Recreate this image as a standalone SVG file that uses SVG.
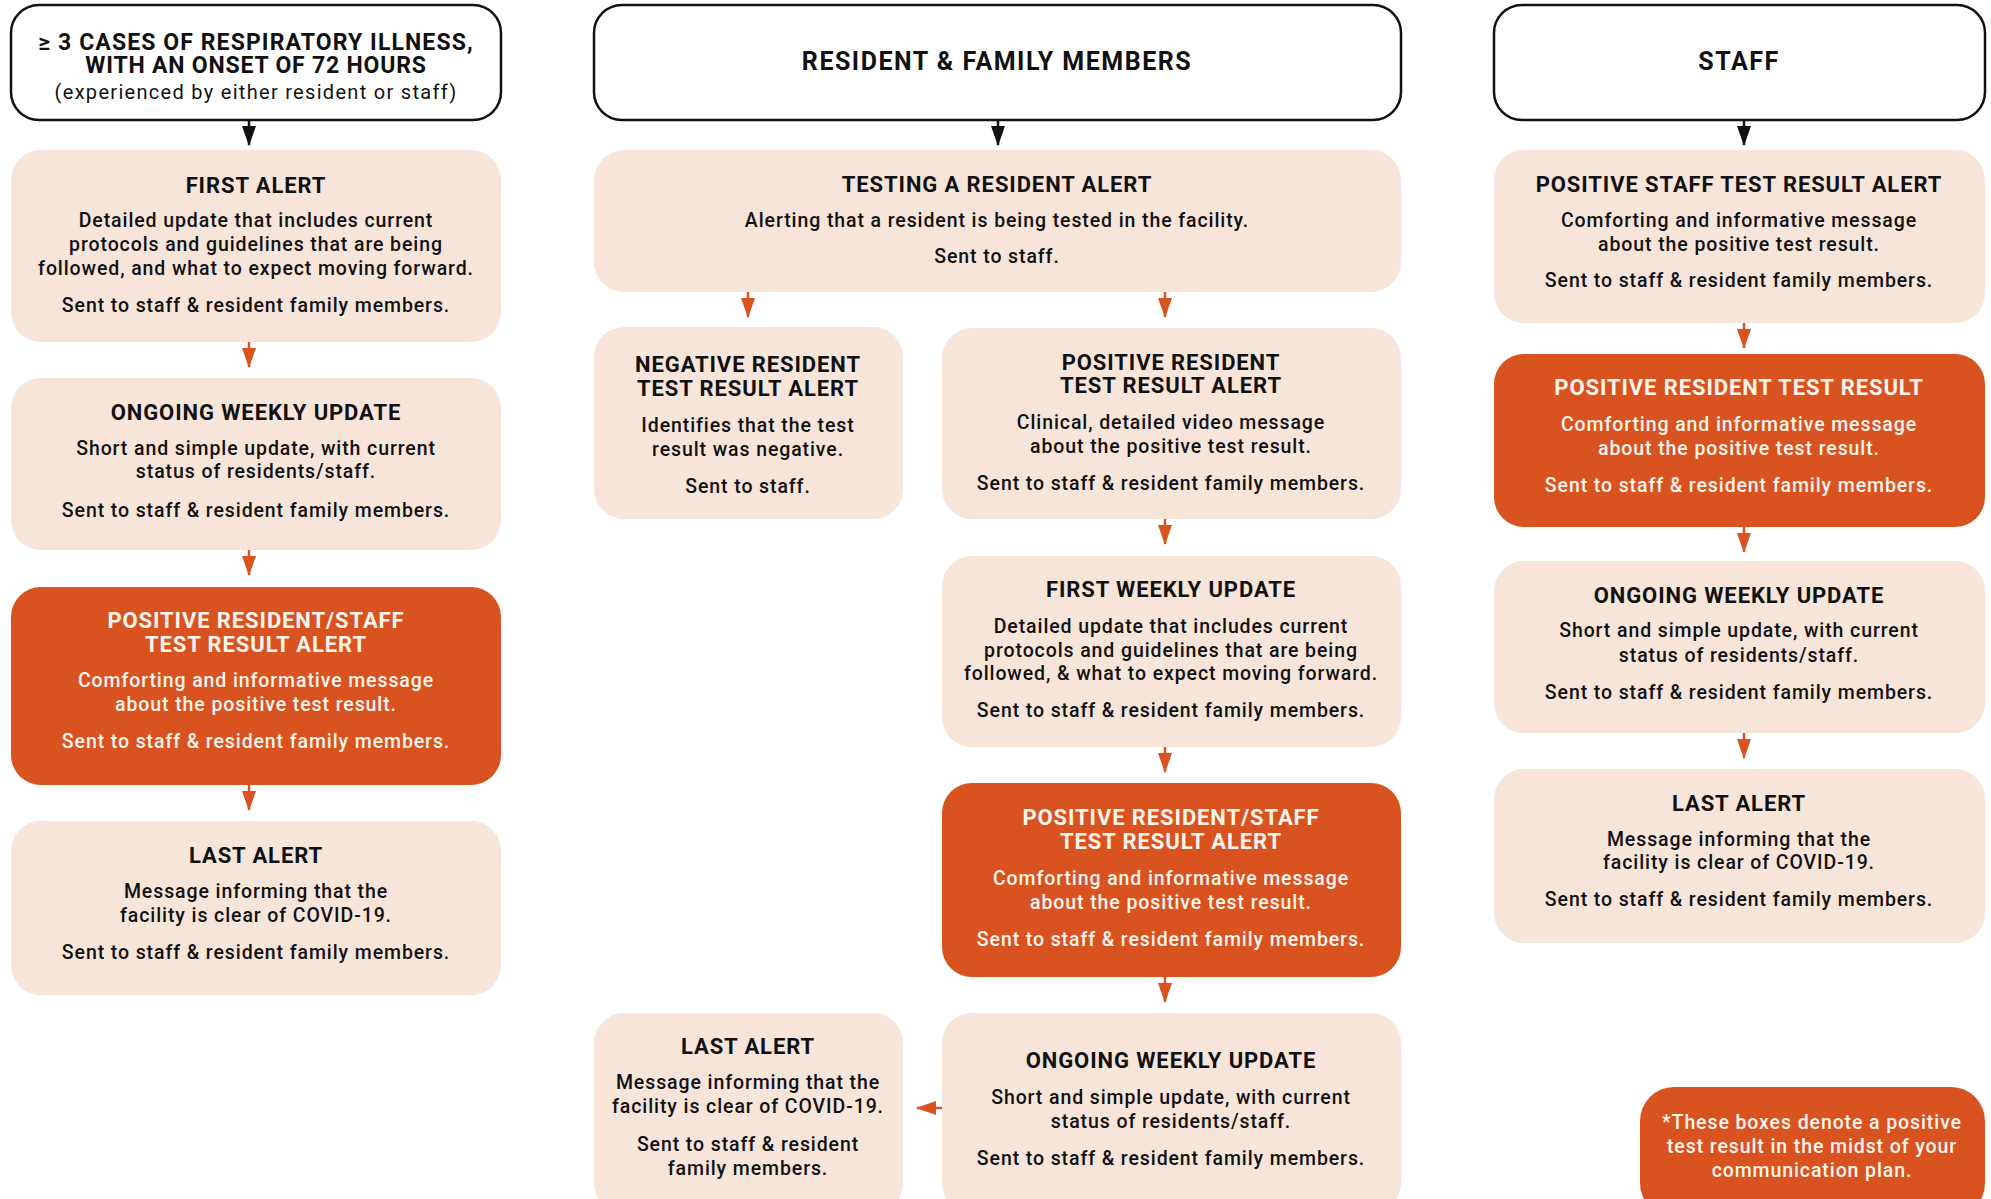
<svg xmlns="http://www.w3.org/2000/svg" width="1991" height="1199" viewBox="0 0 1991 1199">
<style>
.hd{fill:#fff;stroke:#111;stroke-width:2.5}
.pk{fill:#F8E5DA}
.or{fill:#D8531F}
text{font-family:Roboto,"Liberation Sans",sans-serif;text-anchor:middle;fill:#111}
.t{font-size:22px;font-weight:700;letter-spacing:0.9px}
.h{font-size:25px;font-weight:700;letter-spacing:1.5px}
.h2{font-size:23px;font-weight:700;letter-spacing:0.8px}
.s{font-size:20px;font-weight:400;letter-spacing:1.3px}
.b{font-size:19.5px;font-weight:500;letter-spacing:0.9px}
.w{fill:#FFF5EE}
.ao{stroke:#D8531F;stroke-width:2.5;fill:none}
.ak{stroke:#111;stroke-width:2.5;fill:none}
</style>
<defs>
<marker id="mo" viewBox="0 0 20 14" refX="19" refY="7" markerWidth="20" markerHeight="14" markerUnits="userSpaceOnUse" orient="auto"><path d="M0,0 L20,7 L0,14 Z" fill="#D8531F"/></marker>
<marker id="mk" viewBox="0 0 20 14" refX="19" refY="7" markerWidth="20" markerHeight="14" markerUnits="userSpaceOnUse" orient="auto"><path d="M0,0 L20,7 L0,14 Z" fill="#111"/></marker>
</defs>

<g id="connectors">
<line class="ak" x1="249" y1="120" x2="249" y2="145" marker-end="url(#mk)"/>
<line class="ao" x1="249" y1="342" x2="249" y2="367" marker-end="url(#mo)"/>
<line class="ao" x1="249" y1="550" x2="249" y2="575" marker-end="url(#mo)"/>
<line class="ao" x1="249" y1="785" x2="249" y2="810" marker-end="url(#mo)"/>
<line class="ak" x1="998" y1="120" x2="998" y2="145" marker-end="url(#mk)"/>
<line class="ao" x1="748" y1="292" x2="748" y2="317" marker-end="url(#mo)"/>
<line class="ao" x1="1165" y1="292" x2="1165" y2="317" marker-end="url(#mo)"/>
<line class="ao" x1="1165" y1="519" x2="1165" y2="544" marker-end="url(#mo)"/>
<line class="ao" x1="1165" y1="747" x2="1165" y2="772" marker-end="url(#mo)"/>
<line class="ao" x1="1165" y1="977" x2="1165" y2="1002" marker-end="url(#mo)"/>
<line class="ao" x1="942" y1="1108" x2="917" y2="1108" marker-end="url(#mo)"/>
<line class="ak" x1="1744" y1="120" x2="1744" y2="145" marker-end="url(#mk)"/>
<line class="ao" x1="1744" y1="323" x2="1744" y2="348" marker-end="url(#mo)"/>
<line class="ao" x1="1744" y1="527" x2="1744" y2="552" marker-end="url(#mo)"/>
<line class="ao" x1="1744" y1="733" x2="1744" y2="758" marker-end="url(#mo)"/>
</g>

<g id="hdr-cases">
<rect class="hd" x="11" y="5" width="490" height="115" rx="28"/>
<text class="h2" x="256" y="50" style="letter-spacing:1.1px">≥ 3 CASES OF RESPIRATORY ILLNESS,</text>
<text class="h2" x="256" y="73">WITH AN ONSET OF 72 HOURS</text>
<text class="s" x="256" y="99">(experienced by either resident or staff)</text>
</g>
<g id="c1-first-alert">
<rect class="pk" x="11" y="150" width="490" height="192" rx="30"/>
<text class="t" x="256" y="193">FIRST ALERT</text>
<text class="b" x="256" y="227">Detailed update that includes current</text>
<text class="b" x="256" y="251">protocols and guidelines that are being</text>
<text class="b" x="256" y="275">followed, and what to expect moving forward.</text>
<text class="b" x="256" y="312">Sent to staff &amp; resident family members.</text>
</g>
<g id="c1-ongoing">
<rect class="pk" x="11" y="378" width="490" height="172" rx="30"/>
<text class="t" x="256" y="420">ONGOING WEEKLY UPDATE</text>
<text class="b" x="256" y="455">Short and simple update, with current</text>
<text class="b" x="256" y="478">status of residents/staff.</text>
<text class="b" x="256" y="517">Sent to staff &amp; resident family members.</text>
</g>
<g id="c1-positive">
<rect class="or" x="11" y="587" width="490" height="198" rx="30"/>
<text class="t w" x="256" y="628">POSITIVE RESIDENT/STAFF</text>
<text class="t w" x="256" y="652">TEST RESULT ALERT</text>
<text class="b w" x="256" y="687">Comforting and informative message</text>
<text class="b w" x="256" y="711">about the positive test result.</text>
<text class="b w" x="256" y="748">Sent to staff &amp; resident family members.</text>
</g>
<g id="c1-last">
<rect class="pk" x="11" y="821" width="490" height="174" rx="30"/>
<text class="t" x="256" y="863">LAST ALERT</text>
<text class="b" x="256" y="898">Message informing that the</text>
<text class="b" x="256" y="922">facility is clear of COVID-19.</text>
<text class="b" x="256" y="959">Sent to staff &amp; resident family members.</text>
</g>

<g id="hdr-resident">
<rect class="hd" x="594" y="5" width="807" height="115" rx="28"/>
<text class="h" x="997" y="70">RESIDENT &amp; FAMILY MEMBERS</text>
</g>
<g id="c2-testing">
<rect class="pk" x="594" y="150" width="807" height="142" rx="30"/>
<text class="t" x="997" y="192">TESTING A RESIDENT ALERT</text>
<text class="b" x="997" y="227">Alerting that a resident is being tested in the facility.</text>
<text class="b" x="997" y="263">Sent to staff.</text>
</g>
<g id="c2-negative">
<rect class="pk" x="594" y="327" width="309" height="192" rx="30"/>
<text class="t" x="748" y="372">NEGATIVE RESIDENT</text>
<text class="t" x="748" y="396">TEST RESULT ALERT</text>
<text class="b" x="748" y="432">Identifies that the test</text>
<text class="b" x="748" y="456">result was negative.</text>
<text class="b" x="748" y="493">Sent to staff.</text>
</g>
<g id="c2-positive-resident">
<rect class="pk" x="942" y="328" width="459" height="191" rx="30"/>
<text class="t" x="1171" y="370">POSITIVE RESIDENT</text>
<text class="t" x="1171" y="393">TEST RESULT ALERT</text>
<text class="b" x="1171" y="429">Clinical, detailed video message</text>
<text class="b" x="1171" y="453">about the positive test result.</text>
<text class="b" x="1171" y="490">Sent to staff &amp; resident family members.</text>
</g>
<g id="c2-first-weekly">
<rect class="pk" x="942" y="556" width="459" height="191" rx="30"/>
<text class="t" x="1171" y="597">FIRST WEEKLY UPDATE</text>
<text class="b" x="1171" y="633">Detailed update that includes current</text>
<text class="b" x="1171" y="657">protocols and guidelines that are being</text>
<text class="b" x="1171" y="680">followed, &amp; what to expect moving forward.</text>
<text class="b" x="1171" y="717">Sent to staff &amp; resident family members.</text>
</g>
<g id="c2-positive-rs">
<rect class="or" x="942" y="783" width="459" height="194" rx="30"/>
<text class="t w" x="1171" y="825">POSITIVE RESIDENT/STAFF</text>
<text class="t w" x="1171" y="849">TEST RESULT ALERT</text>
<text class="b w" x="1171" y="885">Comforting and informative message</text>
<text class="b w" x="1171" y="909">about the positive test result.</text>
<text class="b w" x="1171" y="946">Sent to staff &amp; resident family members.</text>
</g>
<g id="c2-ongoing">
<rect class="pk" x="942" y="1013" width="459" height="200" rx="30"/>
<text class="t" x="1171" y="1068">ONGOING WEEKLY UPDATE</text>
<text class="b" x="1171" y="1104">Short and simple update, with current</text>
<text class="b" x="1171" y="1128">status of residents/staff.</text>
<text class="b" x="1171" y="1165">Sent to staff &amp; resident family members.</text>
</g>
<g id="c2-last">
<rect class="pk" x="594" y="1013" width="309" height="200" rx="30"/>
<text class="t" x="748" y="1054">LAST ALERT</text>
<text class="b" x="748" y="1089">Message informing that the</text>
<text class="b" x="748" y="1113">facility is clear of COVID-19.</text>
<text class="b" x="748" y="1151">Sent to staff &amp; resident</text>
<text class="b" x="748" y="1175">family members.</text>
</g>

<g id="hdr-staff">
<rect class="hd" x="1494" y="5" width="491" height="115" rx="28"/>
<text class="h" x="1739" y="70">STAFF</text>
</g>
<g id="c3-positive-staff">
<rect class="pk" x="1494" y="150" width="491" height="173" rx="30"/>
<text class="t" x="1739" y="192">POSITIVE STAFF TEST RESULT ALERT</text>
<text class="b" x="1739" y="227">Comforting and informative message</text>
<text class="b" x="1739" y="251">about the positive test result.</text>
<text class="b" x="1739" y="287">Sent to staff &amp; resident family members.</text>
</g>
<g id="c3-positive-resident">
<rect class="or" x="1494" y="354" width="491" height="173" rx="30"/>
<text class="t w" x="1739" y="395">POSITIVE RESIDENT TEST RESULT</text>
<text class="b w" x="1739" y="431">Comforting and informative message</text>
<text class="b w" x="1739" y="455">about the positive test result.</text>
<text class="b w" x="1739" y="492">Sent to staff &amp; resident family members.</text>
</g>
<g id="c3-ongoing">
<rect class="pk" x="1494" y="561" width="491" height="172" rx="30"/>
<text class="t" x="1739" y="603">ONGOING WEEKLY UPDATE</text>
<text class="b" x="1739" y="637">Short and simple update, with current</text>
<text class="b" x="1739" y="662">status of residents/staff.</text>
<text class="b" x="1739" y="699">Sent to staff &amp; resident family members.</text>
</g>
<g id="c3-last">
<rect class="pk" x="1494" y="769" width="491" height="174" rx="30"/>
<text class="t" x="1739" y="811">LAST ALERT</text>
<text class="b" x="1739" y="846">Message informing that the</text>
<text class="b" x="1739" y="869">facility is clear of COVID-19.</text>
<text class="b" x="1739" y="906">Sent to staff &amp; resident family members.</text>
</g>
<g id="legend">
<rect class="or" x="1640" y="1087" width="345" height="130" rx="34"/>
<text class="b w" x="1812" y="1129">*These boxes denote a positive</text>
<text class="b w" x="1812" y="1153">test result in the midst of your</text>
<text class="b w" x="1812" y="1177">communication plan.</text>
</g>
</svg>
